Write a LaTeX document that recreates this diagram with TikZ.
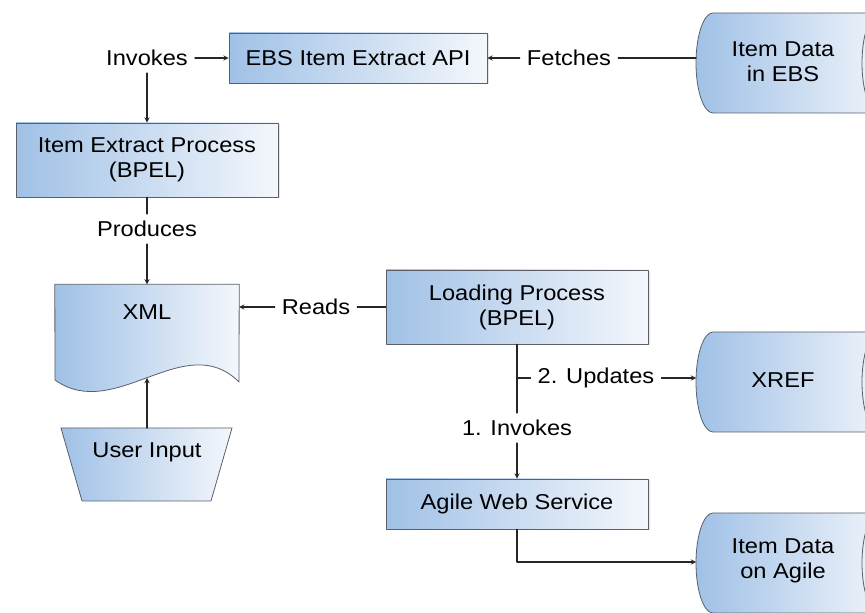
\documentclass[tikz,border=0pt]{standalone}
\usepackage{fontspec}
\setmainfont[FakeStretch=1.1]{Liberation Sans}
\usepackage{tikz}
\usetikzlibrary{arrows,shadows}
\definecolor{BoxBlue}{RGB}{160,193,230}
\definecolor{BoxPale}{RGB}{244,247,252}
\definecolor{EdgeGray}{RGB}{90,96,106}
\newcommand{\EdgeColor}{EdgeGray}

\begin{document}
\begin{tikzpicture}[line cap=round,line join=round,>=stealth,x=1pt,y=1pt,
  font=\fontsize{21.5}{25}\selectfont,
  box/.style={draw=\EdgeColor,line width=0.8pt,left color=BoxBlue,middle color=BoxBlue!30!BoxPale,right color=BoxPale,
    align=center,inner sep=0pt,drop shadow={opacity=0.2,shadow xshift=1.5pt,shadow yshift=-1.5pt}},
  skin/.style={draw=\EdgeColor,line width=0.8pt,left color=BoxBlue,middle color=BoxBlue!30!BoxPale,right color=BoxPale},
  lbl/.style={inner sep=7pt,align=center},
  flow/.style={line width=1.3pt,color=black!85}]
  \useasboundingbox (0,0) rectangle (865,613);
  \clip (0,0) rectangle (865,613);
  % processes
  \node[box,minimum width=258pt,minimum height=50pt] (ebs) at (358,555) {EBS Item Extract API};
  \node[box,minimum width=262pt,minimum height=74pt] (extract) at (147,453) {Item Extract Process\\(BPEL)};
  \node[box,minimum width=262pt,minimum height=74pt] (load) at (517,306) {Loading Process\\(BPEL)};
  \node[box,minimum width=262pt,minimum height=50pt] (agile) at (517,109) {Agile Web Service};
  % data stores, cut off at the right edge
  \foreach \c/\nm/\txt/\ty in {550/ebsdata/{Item Data\\in EBS}/551,231/xref/XREF/233,50/agiledata/{Item Data\\on Agile}/52}{
    \path[skin] (713,\c+50) -- (879,\c+50) arc[start angle=90,end angle=-90,x radius=17,y radius=50]
      -- (713,\c-50) arc[start angle=270,end angle=90,x radius=17,y radius=50] -- cycle;
    \draw[draw=\EdgeColor,line width=0.8pt] (879,\c+50) arc[start angle=90,end angle=270,x radius=17,y radius=50];
    \node[align=center] (\nm) at (783,\ty) {\txt};
  }
  \coordinate (ebsdata-w) at (696,555);
  \coordinate (xref-w) at (696,235);
  \coordinate (agiledata-w) at (696,51);
  % xml document
  \node[minimum width=184pt,minimum height=97pt,inner sep=0pt] (xml) at (147,280) {};
  \path[skin] (xml.north west) -- (xml.north east) -- (239,231)
    .. controls (185,285) and (115,190) .. (55,233) -- cycle;
  \node (xmltxt) at (147,301) {XML};
  \coordinate (xmlbot) at (147,235);
  % user input
  \path[skin] (61,185) -- (232,185) -- (211,112) -- (82,112) -- cycle;
  \node (ui) at (147,161) {User Input};
  \coordinate (uitop) at (147,185);
  % labels
  \node[lbl] (inv) at (147,555) {Invokes};
  \node[lbl] (fetch) at (569,555) {Fetches};
  \node[lbl] (prod) at (147,384) {Produces};
  \node[lbl] (reads) at (316,306) {Reads};
  \node[lbl] (inv1) at (517,185) {1. Invokes};
  \node[lbl] (upd) at (596,235) {2. Updates};
  \coordinate (split) at (517,235);
  % connectors
  \draw[flow,->] (inv) -- (ebs);
  \draw[flow,->] (inv) -- (extract);
  \draw[flow] (ebsdata-w) -- (fetch);
  \draw[flow,->] (fetch) -- (ebs);
  \draw[flow] (extract) -- (prod);
  \draw[flow,->] (prod) -- (xml);
  \draw[flow] (load) -- (reads);
  \draw[flow,->] (reads) -- (reads -| xml.east);
  \draw[flow,->] (uitop) -- (xmlbot);
  \draw[flow] (load) -- (inv1);
  \draw[flow,->] (inv1) -- (agile);
  \draw[flow] (split) -- (upd);
  \draw[flow,->] (upd) -- (xref-w);
  \draw[flow,->] (agile) |- (agiledata-w);
\end{tikzpicture}
\end{document}
